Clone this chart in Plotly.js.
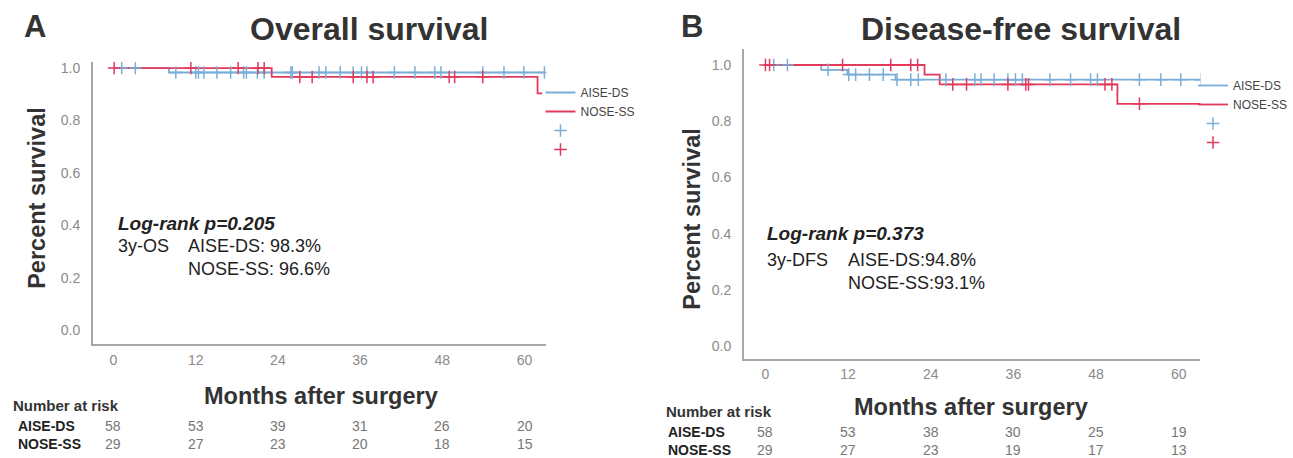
<!DOCTYPE html>
<html>
<head>
<meta charset="utf-8">
<script src="https://cdn.plot.ly/plotly-3.0.1.min.js"></script>
<style>
html,body{margin:0;padding:0;background:#fff;}
#chart{width:1293px;height:458px;}
</style>
</head>
<body>
<div id="chart"></div>
<script>
// ---------- DATA ----------
const groups = ["AISE-DS", "NOSE-SS"];
// Panel A: Overall survival (step curves: event times / survival after event)
const osAiseTime = [0, 8.1, 62.9];
const osAiseSurv = [1.0, 0.983, 0.983];
const osNoseTime = [0, 23.1, 61.9, 62.6];
const osNoseSurv = [1.0, 0.966, 0.903, 0.903];
const osAiseCensor = [1.2, 3.2, 9.1, 12.0, 12.4, 13.2, 15.1, 17.1, 19.0, 19.4, 21.0, 22.0, 25.9, 26.1, 30.0, 31.0, 33.1, 35.0, 36.2, 37.0, 41.0, 44.0, 46.9, 47.8, 53.9, 57.0, 59.9, 62.9];
const osNoseCensor = [0.1, 11.3, 18.2, 21.1, 22.0, 27.2, 29.0, 35.0, 37.0, 37.9, 49.0, 49.8, 53.9];
// Panel B: Disease-free survival
const dfsAiseTime = [0, 8.1, 11.9, 18.9, 63.2];
const dfsAiseSurv = [1.0, 0.983, 0.966, 0.948, 0.948];
const dfsNoseTime = [0, 23.1, 25.3, 51.1, 63.5];
const dfsNoseSurv = [1.0, 0.966, 0.931, 0.862, 0.862];
const dfsAiseCensor = [1.2, 3.2, 9.1, 12.1, 13.1, 15.1, 17.1, 19.1, 21.1, 22.2, 26.2, 30.4, 31.3, 33.2, 35.2, 36.3, 37.3, 41.3, 44.3, 47.2, 48.2, 54.3, 57.4, 60.3, 63.2];
const dfsNoseCensor = [0.0, 0.6, 11.2, 18.2, 21.1, 22.1, 27.2, 29.2, 35.2, 37.8, 38.2, 49.3, 50.3, 54.3];
// Number at risk
const riskTimes = [0, 12, 24, 36, 48, 60];
const osRiskAise = [58, 53, 39, 31, 26, 20];
const osRiskNose = [29, 27, 23, 20, 18, 15];
const dfsRiskAise = [58, 53, 38, 30, 25, 19];
const dfsRiskNose = [29, 27, 23, 19, 17, 13];
const yTicks = [0, 0.2, 0.4, 0.6, 0.8, 1.0];
const xTicks = [0, 12, 24, 36, 48, 60];

// ---------- STYLE ----------
const W = 1293, H = 458;
const RED = "#e23a5c", BLUE = "#7aaed8";
const FONT = "Liberation Sans, Arial, Helvetica, sans-serif";
const px = v => v / W;          // pixel -> paper x
const py = v => 1 - v / H;      // pixel -> paper y

function survAt(times, surv, t) {
  let s = surv[0];
  for (let i = 0; i < times.length; i++) { if (times[i] <= t) s = surv[i]; }
  return s;
}

function curve(times, surv, color, name, xa, ya, lg) {
  return {x: times, y: surv, type: "scatter", mode: "lines", line: {shape: "hv", color: color, width: 1.8},
          name: name, xaxis: xa, yaxis: ya, legend: lg, hoverinfo: "x+y"};
}
function censor(ct, times, surv, color, xa, ya, lg) {
  return {x: ct, y: ct.map(t => survAt(times, surv, t)), type: "scatter", mode: "markers",
          marker: {symbol: "cross-thin", size: 9, line: {color: color, width: 1.5}, color: color},
          name: " ", xaxis: xa, yaxis: ya, legend: lg, hoverinfo: "x+y"};
}

const data = [
  curve(osAiseTime, osAiseSurv, BLUE, groups[0], "x", "y", "legend"),
  curve(osNoseTime, osNoseSurv, RED, groups[1], "x", "y", "legend"),
  censor(osAiseCensor, osAiseTime, osAiseSurv, BLUE, "x", "y", "legend"),
  censor(osNoseCensor, osNoseTime, osNoseSurv, RED, "x", "y", "legend"),
  curve(dfsAiseTime, dfsAiseSurv, BLUE, groups[0], "x2", "y2", "legend2"),
  curve(dfsNoseTime, dfsNoseSurv, RED, groups[1], "x2", "y2", "legend2"),
  censor(dfsAiseCensor, dfsAiseTime, dfsAiseSurv, BLUE, "x2", "y2", "legend2"),
  censor(dfsNoseCensor, dfsNoseTime, dfsNoseSurv, RED, "x2", "y2", "legend2")
];

function xaxisDef(domain, range, standoff) {
  return {domain: domain, range: range, tickvals: xTicks, ticktext: xTicks.map(String), ticks: "",
          showgrid: false, zeroline: false, showline: true, linecolor: "#a8a8a8", linewidth: 1.5,
          tickfont: {family: FONT, size: 14, color: "#8a8a8a"}, ticklabelstandoff: standoff, fixedrange: true};
}
function yaxisDef(domain, range, anchor) {
  return {domain: domain, range: range, tickvals: yTicks, tickformat: ".1f", ticks: "", anchor: anchor,
          showgrid: false, zeroline: false, showline: true, linecolor: "#a8a8a8", linewidth: 1.5,
          tickfont: {family: FONT, size: 14, color: "#8a8a8a"}, ticklabelstandoff: 8, fixedrange: true};
}

const ann = [];
function txt(x, y, t, opt) {
  ann.push(Object.assign({x: px(x), y: py(y), xref: "paper", yref: "paper", text: t, showarrow: false,
    xanchor: "left", yanchor: "middle", font: {family: FONT, size: 19, color: "#222"}}, opt || {}));
}
// Panel labels and titles
txt(35, 27, "<b>A</b>", {xanchor: "center", font: {family: FONT, size: 31, color: "#333"}});
txt(371, 29, "<b>Overall survival</b>", {xanchor: "center", font: {family: FONT, size: 32, color: "#333"}});
txt(695, 27, "<b>B</b>", {xanchor: "center", font: {family: FONT, size: 31, color: "#333"}});
txt(1026, 29, "<b>Disease-free survival</b>", {xanchor: "center", font: {family: FONT, size: 32, color: "#333"}});
// Axis titles
txt(37, 198, "<b>Percent survival</b>", {xanchor: "center", textangle: -90, font: {family: FONT, size: 23.5, color: "#333"}});
txt(695, 219, "<b>Percent survival</b>", {xanchor: "center", textangle: -90, font: {family: FONT, size: 23.5, color: "#333"}});
txt(322, 396, "<b>Months after surgery</b>", {xanchor: "center", font: {family: FONT, size: 23.5, color: "#333"}});
txt(976, 407, "<b>Months after surgery</b>", {xanchor: "center", font: {family: FONT, size: 23.5, color: "#333"}});
// Statistics text
const statFont = {family: FONT, size: 18, color: "#222"};
txt(117, 223, "<b><i>Log-rank p=0.205</i></b>", {font: {family: FONT, size: 19, color: "#222"}});
txt(117, 246, "3y-OS", {font: statFont});
txt(187, 257, "AISE-DS: 98.3%<br>NOSE-SS: 96.6%", {align: "left", font: statFont});
txt(769, 233, "<b><i>Log-rank p=0.373</i></b>", {font: {family: FONT, size: 19, color: "#222"}});
txt(769, 260, "3y-DFS", {font: statFont});
txt(850, 271, "AISE-DS:94.8%<br>NOSE-SS:93.1%", {align: "left", font: statFont});
// Number at risk
txt(11, 405, "<b>Number at risk</b>", {font: {family: FONT, size: 15, color: "#333"}});
txt(667, 411, "<b>Number at risk</b>", {font: {family: FONT, size: 15, color: "#333"}});
const rowLabel = "<b>" + groups[0] + "<br>" + groups[1] + "</b>";
txt(16, 435, rowLabel, {align: "left", font: {family: FONT, size: 14, color: "#222"}});
txt(669, 441, rowLabel, {align: "left", font: {family: FONT, size: 14, color: "#222"}});
function riskCols(top, bottom, xref, yPix) {
  riskTimes.forEach((t, i) => {
    ann.push({x: t, xref: xref, y: py(yPix), yref: "paper", text: top[i] + "<br>" + bottom[i], showarrow: false,
      xanchor: "center", yanchor: "middle", align: "center", font: {family: FONT, size: 14, color: "#777"}});
  });
}
riskCols(osRiskAise, osRiskNose, "x", 435);
riskCols(dfsRiskAise, dfsRiskNose, "x2", 441);

const legendStyle = {font: {family: FONT, size: 12, color: "#444"}, bgcolor: "rgba(0,0,0,0)",
  borderwidth: 0, xanchor: "left", yanchor: "top", tracegroupgap: 0, itemwidth: 30, traceorder: "normal"};

const layout = {
  width: W, height: H,
  margin: {l: 0, r: 0, t: 0, b: 0},
  paper_bgcolor: "#fff", plot_bgcolor: "#fff",
  showlegend: true,
  xaxis: xaxisDef([px(93), px(549)], [-3.05, 63.2], 3),
  yaxis: yaxisDef([py(344), py(62)], [-0.053, 1.023], "x"),
  xaxis2: Object.assign(xaxisDef([px(747), px(1206)], [-3.18, 63.15], 2), {anchor: "y2"}),
  yaxis2: yaxisDef([py(359), py(49)], [-0.046, 1.057], "x2"),
  legend: Object.assign({x: px(543), y: py(78)}, legendStyle),
  legend2: Object.assign({x: px(1199), y: py(71)}, legendStyle),
  annotations: ann
};

Plotly.newPlot("chart", data, layout, {displayModeBar: false, staticPlot: true});
</script>
</body>
</html>
